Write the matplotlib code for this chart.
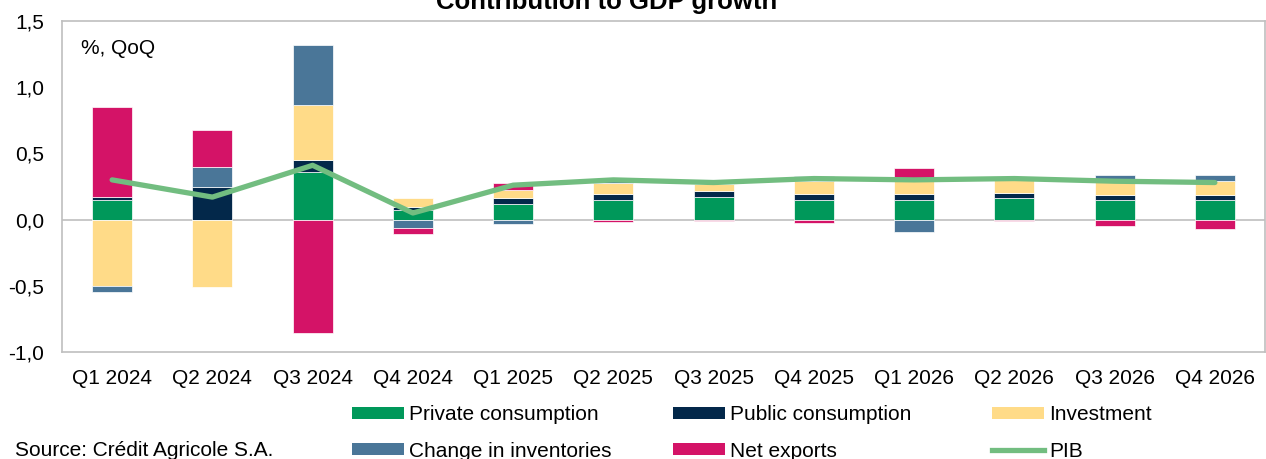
import matplotlib
matplotlib.use("Agg")
import matplotlib.pyplot as plt
import numpy as np
from matplotlib.patches import Patch
from matplotlib.lines import Line2D
from matplotlib.ticker import FuncFormatter

plt.rcParams['font.family'] = ['Liberation Sans', 'DejaVu Sans']

quarters = ["Q1 2024", "Q2 2024", "Q3 2024", "Q4 2024", "Q1 2025", "Q2 2025",
            "Q3 2025", "Q4 2025", "Q1 2026", "Q2 2026", "Q3 2026", "Q4 2026"]
private_consumption = [0.15, 0.00, 0.36, 0.07, 0.12, 0.15, 0.17, 0.15, 0.15, 0.16, 0.145, 0.145]
public_consumption = [0.02, 0.25, 0.09, 0.025, 0.045, 0.045, 0.045, 0.045, 0.04, 0.04, 0.04, 0.04]
investment = [-0.50, -0.51, 0.415, 0.065, 0.06, 0.08, 0.055, 0.095, 0.10, 0.10, 0.125, 0.11]
inventories = [-0.05, 0.15, 0.45, -0.06, -0.03, 0.02, 0.0, 0.04, -0.09, 0.0, 0.025, 0.045]
net_exports = [0.68, 0.28, -0.86, -0.05, 0.05, -0.02, -0.01, -0.025, 0.10, -0.01, -0.05, -0.07]
pib = [0.30, 0.17, 0.41, 0.05, 0.26, 0.30, 0.28, 0.31, 0.30, 0.31, 0.29, 0.28]

series = [
    ("Private consumption", private_consumption, "#00985A"),
    ("Public consumption", public_consumption, "#03284A"),
    ("Investment", investment, "#FFDB88"),
    ("Change in inventories", inventories, "#4A7698"),
    ("Net exports", net_exports, "#D41367"),
]
pib_color = "#72BD80"
grid_color = "#BFBFBF"
FS = 15

fig = plt.figure(figsize=(12.66, 4.59), dpi=100)
ax = fig.add_axes([62 / 1266, 107 / 459, 1203 / 1266, 331 / 459])

x = np.arange(len(quarters))
pos_base = np.zeros(len(quarters))
neg_base = np.zeros(len(quarters))
for name, vals, color in series:
    v = np.array(vals, dtype=float)
    bottom = np.where(v >= 0, pos_base, neg_base)
    ax.bar(x, v, width=0.4, bottom=bottom, color=color,
           edgecolor="white", linewidth=0.5, zorder=2)
    pos_base += np.where(v >= 0, v, 0)
    neg_base += np.where(v < 0, v, 0)

ax.plot(x, pib, color=pib_color, linewidth=3.8, solid_capstyle="round",
        solid_joinstyle="round", zorder=4)

ax.axhline(0, color=grid_color, linewidth=1.2, zorder=1)
ax.set_xlim(-0.5, len(quarters) - 0.5)
ax.set_ylim(-1.0, 1.5)
ax.set_yticks(np.arange(-1.0, 1.51, 0.5))
ax.yaxis.set_major_formatter(FuncFormatter(lambda v, p: f"{v:.1f}".replace(".", ",")))
ax.set_xticks(x)
ax.set_xticklabels(quarters)
ax.tick_params(axis="both", length=0, labelsize=FS, colors="black")
ax.tick_params(axis="y", pad=13)
ax.tick_params(axis="x", pad=12)
for s in ax.spines.values():
    s.set_color(grid_color)
    s.set_linewidth(1.2)

fig.text(607 / 1266, 1 - 9 / 459, "Contribution to GDP growth", ha="center",
         va="baseline", fontsize=18.5, fontweight="bold")
fig.text(81 / 1266, 1 - 48 / 459, "%, QoQ", ha="left", va="center", fontsize=FS)
fig.text(15 / 1266, 1 - 451 / 459, "Source: Crédit Agricole S.A.", ha="left",
         va="center", fontsize=FS)

# legend: three columns of two entries each
handles = [Patch(facecolor=c, edgecolor="none") for _, _, c in series]
labels = [n for n, _, _ in series]
handles.append(Line2D([0], [0], color=pib_color, linewidth=3.8))
labels.append("PIB")
columns = [(352, [0, 3]), (673, [1, 4]), (992, [2, 5])]
for xpix, idx in columns:
    fig.legend([handles[i] for i in idx], [labels[i] for i in idx],
               loc="upper left", bbox_to_anchor=(xpix / 1266, 1 - 405 / 459),
               frameon=False, borderpad=0, borderaxespad=0, fontsize=FS,
               handlelength=2.5, handleheight=0.5, handletextpad=0.25,
               labelspacing=0.85)

fig.savefig("out.png", dpi=100)
